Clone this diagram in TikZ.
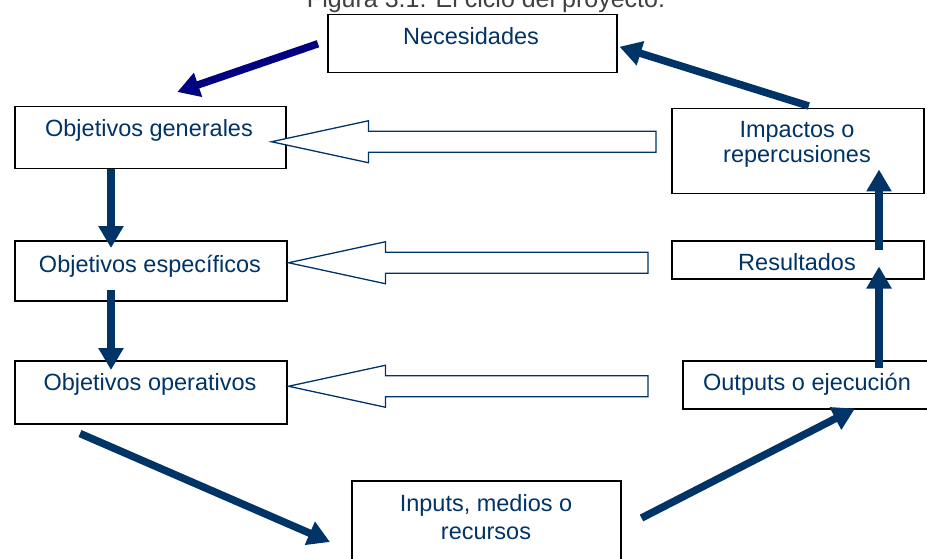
\documentclass[tikz,border=0pt]{standalone}
\usepackage{fontspec}
\setmainfont{Liberation Sans}
\usetikzlibrary{calc,arrows.meta}
\definecolor{azul}{RGB}{0,51,102}
\definecolor{marino}{RGB}{0,0,128}
\tikzset{
	caja/.style={draw=black, line width=1.5pt, fill=white, inner sep=0pt, anchor=north west},
	texto/.style={text=azul, inner sep=0pt, anchor=base, font=\fontsize{23.5}{26}\selectfont},
	flecha/.style={draw=azul, line width=7.5pt, -{Triangle[length=22pt, width=24pt]}},
	hueca/.style={draw=azul, line width=1.3pt, fill=white, line join=miter}
}
% hollow arrow: tip, tail
\newcommand\hueca[2]{\draw[hueca] let \p1=#1, \p2=#2 in (\x1,\y1) -- ++(97pt,21pt) -- ++(0,-10.5pt) -- (\x2,\y1+10.5pt) -- ++(0,-21pt) -- (\x1+97pt,\y1-10.5pt) -- ++(0,-10.5pt) -- cycle;}

\begin{document}
\begin{tikzpicture}[x=1pt, y=-1pt]
			%%%%% START %%%%%
			\useasboundingbox (0,0) rectangle (927,559);
			
			\node[inner sep=0pt, anchor=base, text=black!75, font=\fontsize{25}{28}\selectfont] (titulo) at (486,8) {Figura 3.1. El ciclo del proyecto.};
			
			% boxes
			\node[caja, minimum width=289pt, minimum height=58pt] (nec) at (327,14) {};
			\node[caja, minimum width=271pt, minimum height=62pt] (gen) at (14,106) {};
			\node[caja, minimum width=272pt, minimum height=60pt] (esp) at (14,240) {};
			\node[caja, minimum width=272pt, minimum height=63pt] (ope) at (14,360) {};
			\node[caja, minimum width=252pt, minimum height=85pt] (imp) at (671,108) {};
			\node[caja, minimum width=252pt, minimum height=38pt] (res) at (671,240) {};
			\node[caja, minimum width=245pt, minimum height=48pt] (out) at (682,360) {};
			\node[caja, minimum width=269pt, minimum height=95pt] (inp) at (351,480) {};
			
			% texts
			\node[texto] (nec-t) at (471,45) {Necesidades};
			\node[texto] (gen-t) at (149,137) {Objetivos generales};
			\node[texto] (esp-t) at (150,272) {Objetivos específicos};
			\node[texto] (ope-t) at (150,390) {Objetivos operativos};
			\node[texto] (imp-t1) at (797,138) {Impactos o};
			\node[texto] (imp-t2) at (797,163) {repercusiones};
			\node[texto] (res-t) at (797,270) {Resultados};
			\node[texto] (out-t) at (807,390) {Outputs o ejecución};
			\node[texto] (inp-t1) at (486,511) {Inputs, medios o};
			\node[texto] (inp-t2) at (486,539) {recursos};
			
			% hollow arrows
			\hueca{($(gen.east)+(-15,4)$)}{($(imp.west)+(-15,0)$)}
			\hueca{($(esp.east)+(1,-8)$)}{($(res.west)+(-23,0)$)}
			\hueca{($(ope.east)+(1,-6)$)}{($(out.west)+(-34,0)$)}
			
			% cycle arrows
			\draw[flecha, draw=marino] ($(nec.west)+(-9,0)$) -- ($(gen.north)+(27,-14)$);
			\draw[flecha] ($(imp.north)+(11,-2)$) -- ($(nec.east)+(2,3)$);
			\draw[flecha] ($(gen.south west)+(97,0)$) -- ($(esp.north west)+(97,8)$);
			\draw[flecha] ($(esp.south west)+(97,-12)$) -- ($(ope.north west)+(97,10)$);
			\draw[flecha] ($(ope.south west)+(66,9)$) -- ($(inp.north west)+(-21,62)$);
			\draw[flecha] ($(inp.north east)+(20,38)$) -- ($(out.south west)+(173,-1)$);
			\draw[flecha] ($(out.north west)+(197,8)$) -- ($(res.south west)+(208,-13)$);
			\draw[flecha] ($(res.north west)+(208,10)$) -- ($(imp.south west)+(208,-25)$);
			
			%%%%% END %%%%%
		\end{tikzpicture}
\end{document}
